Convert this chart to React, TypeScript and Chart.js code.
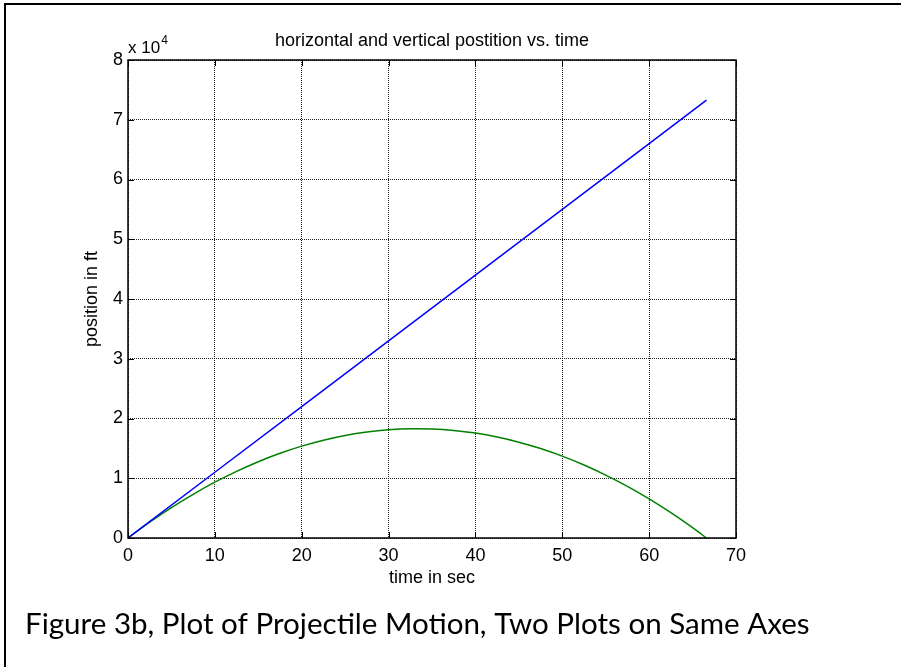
import React, { useEffect, useRef } from "react";
import { Chart, registerables } from "chart.js";

Chart.register(...registerables);

// ---- data ----
const horizTime = [0, 10, 20, 30, 40, 50, 60, 66.6];
const horizontalPosition = [0, 11000, 22000, 33000, 44000, 55000, 66000, 73300];

const vertTime = [0, 2.5, 5, 7.5, 10, 12.5, 15, 17.5, 20, 22.5, 25, 27.5, 30, 32.5, 35, 37.5, 40, 42.5, 45, 47.5, 50, 52.5, 55, 57.5, 60, 62.5, 65, 66.6];
const verticalPosition = [0, 2640, 5080, 7310, 9340, 11160, 12770, 14180, 15380, 16370, 17160, 17740, 18120, 18290, 18250, 18010, 17560, 16900, 16040, 14970, 13700, 12220, 10530, 8640, 6540, 4230, 1720, 0];

const xTicks = [0, 10, 20, 30, 40, 50, 60, 70];
const yTicks = [0, 10000, 20000, 30000, 40000, 50000, 60000, 70000, 80000];
const yTickScale = 10000;

const titleText = "horizontal and vertical postition vs. time";
const xLabel = "time in sec";
const yLabel = "position in ft";
const exponentBase = "x 10";
const exponentPower = "4";
const captionText = "Figure 3b, Plot of Projectile Motion, Two Plots on Same Axes";

const AX_FONT = '"Liberation Sans", Arial, Helvetica, sans-serif';
const CAP_FONT = 'Lato, "Open Sans", sans-serif';

export default function App() {
  const ref = useRef<HTMLCanvasElement | null>(null);

  useEffect(() => {
    const canvas = ref.current;
    if (!canvas) return;

    const decor = {
      id: "decor",
      afterDraw(chart: any) {
        const ctx: CanvasRenderingContext2D = chart.ctx;
        const { left, right, top, bottom } = chart.chartArea;
        const xs = chart.scales.x;
        const ys = chart.scales.y;
        ctx.save();
        ctx.strokeStyle = "#000";
        ctx.setLineDash([]);
        ctx.lineWidth = 1;
        const tl = 6;
        // inward tick marks on all four sides
        xTicks.forEach((v) => {
          const px = Math.round(xs.getPixelForValue(v)) + 0.5;
          ctx.beginPath();
          ctx.moveTo(px, bottom);
          ctx.lineTo(px, bottom - tl);
          ctx.moveTo(px, top);
          ctx.lineTo(px, top + tl);
          ctx.stroke();
        });
        yTicks.forEach((v) => {
          const py = Math.round(ys.getPixelForValue(v)) + 0.5;
          ctx.beginPath();
          ctx.moveTo(left, py);
          ctx.lineTo(left + tl, py);
          ctx.moveTo(right, py);
          ctx.lineTo(right - tl, py);
          ctx.stroke();
        });
        // axes box
        ctx.lineWidth = 1.5;
        ctx.strokeRect(left, top, right - left, bottom - top);

        // title and axis labels
        ctx.fillStyle = "#000";
        ctx.font = `18px ${AX_FONT}`;
        ctx.textAlign = "center";
        ctx.textBaseline = "middle";
        ctx.fillText(titleText, (left + right) / 2, 41);
        ctx.fillText(xLabel, (left + right) / 2, 578);
        ctx.save();
        ctx.translate(92, (top + bottom) / 2);
        ctx.rotate(-Math.PI / 2);
        ctx.fillText(yLabel, 0, 0);
        ctx.restore();

        // exponent label
        ctx.textAlign = "left";
        ctx.textBaseline = "alphabetic";
        ctx.font = `17px ${AX_FONT}`;
        ctx.fillText(exponentBase, left, 53);
        const w = ctx.measureText(exponentBase).width;
        ctx.font = `12px ${AX_FONT}`;
        ctx.fillText(exponentPower, left + w + 1, 44);

        // caption
        ctx.font = `30px ${CAP_FONT}`;
        const cw = ctx.measureText(captionText).width;
        const size = (30 * 785) / cw;
        ctx.font = `${size}px ${CAP_FONT}`;
        ctx.fillText(captionText, 25, 634);

        // frame (top and left edges)
        ctx.fillRect(4, 3, 901 - 4, 2);
        ctx.fillRect(4, 3, 2, 667 - 3);
        ctx.restore();
      },
    };

    const gridOpts = { color: "#222", lineWidth: 1, drawTicks: false };
    const chart = new Chart(canvas, {
      type: "line",
      data: {
        datasets: [
          {
            label: "horizontal",
            data: horizTime.map((t, i) => ({ x: t, y: horizontalPosition[i] })),
            borderColor: "#0000ff",
            borderWidth: 1.5,
            pointRadius: 0,
            fill: false,
            tension: 0,
          },
          {
            label: "vertical",
            data: vertTime.map((t, i) => ({ x: t, y: verticalPosition[i] })),
            borderColor: "#008000",
            borderWidth: 1.5,
            pointRadius: 0,
            fill: false,
            tension: 0.3,
          },
        ],
      },
      options: {
        responsive: false,
        animation: false,
        devicePixelRatio: 1,
        layout: { padding: { left: 0, top: 60, right: 165, bottom: 0 } },
        plugins: {
          legend: { display: false },
          tooltip: { enabled: false },
          title: { display: false },
        },
        scales: {
          x: {
            type: "linear",
            min: 0,
            max: 70,
            afterBuildTicks: (s: any) => {
              s.ticks = xTicks.map((v) => ({ value: v }));
            },
            afterFit: (s: any) => {
              s.height = 129;
            },
            grid: gridOpts,
            border: { display: false, dash: [1, 1] },
            ticks: {
              color: "#000",
              font: { family: AX_FONT, size: 18 },
              padding: 7,
              maxRotation: 0,
              autoSkip: false,
            },
          },
          y: {
            type: "linear",
            min: 0,
            max: 80000,
            afterBuildTicks: (s: any) => {
              s.ticks = yTicks.map((v) => ({ value: v }));
            },
            afterFit: (s: any) => {
              s.width = 128;
            },
            grid: gridOpts,
            border: { display: false, dash: [1, 1] },
            ticks: {
              color: "#000",
              font: { family: AX_FONT, size: 18 },
              padding: 5,
              autoSkip: false,
              callback: (v: any) => String(Number(v) / yTickScale),
            },
          },
        },
      },
      plugins: [decor],
    } as any);

    return () => chart.destroy();
  }, []);

  return (
    <div style={{ position: "fixed", left: 0, top: 0, width: 901, height: 667, background: "#fff" }}>
      <canvas ref={ref} width={901} height={667} style={{ display: "block" }} />
    </div>
  );
}
